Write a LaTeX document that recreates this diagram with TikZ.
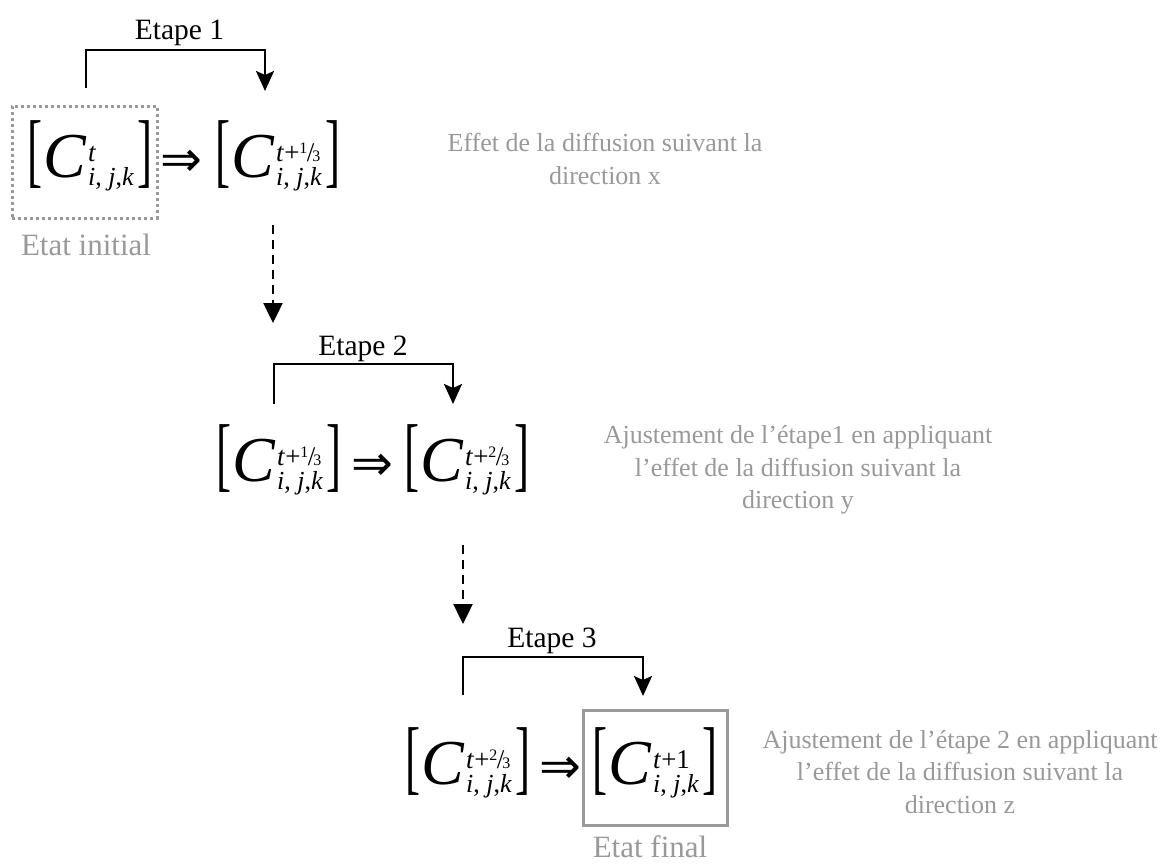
\documentclass[tikz,border=0pt]{standalone}
\usepackage{fontspec}
\setmainfont{Liberation Serif}
\newfontfamily\djv{DejaVu Sans}
\usetikzlibrary{arrows.meta}
\definecolor{lgray}{HTML}{999999}
\newsavebox\supbox
\newsavebox\subbox
\newcommand\Brk[1]{\scalebox{0.55}[1]{\fontsize{82}{82}\selectfont #1}}
\newcommand\Frac[2]{{\fontsize{16}{16}\selectfont\raisebox{8pt}{#1}}\kern-0.5pt{\fontsize{27}{27}\selectfont/}\kern-2pt{\fontsize{16}{16}\selectfont #2}}
\newcommand\Cexpr[1]{%
  \sbox\supbox{\fontsize{27}{27}\selectfont #1}%
  \sbox\subbox{\fontsize{26}{26}\selectfont\textit{i}, \textit{j},\textit{k}}%
  \Brk{[}\kern1pt{\fontsize{64}{64}\selectfont\textit{C}}\kern1pt%
  \rlap{\raisebox{16pt}{\usebox\supbox}}\rlap{\raisebox{-8pt}{\usebox\subbox}}%
  \ifdim\wd\supbox>\wd\subbox\hspace{\wd\supbox}\else\hspace{\wd\subbox}\fi
  \kern3pt\Brk{]}}
\tikzset{
  expr/.style={inner sep=0pt, anchor=base},
  imp/.style={inner sep=0pt, anchor=center, font=\djv\fontsize{50}{50}\selectfont},
  steplabel/.style={inner sep=0pt, anchor=base, font=\fontsize{29.5}{30}\selectfont},
  statelabel/.style={inner sep=0pt, anchor=base, text=lgray, font=\fontsize{31}{32}\selectfont},
  note/.style={inner sep=0pt, anchor=center, align=center, text=lgray, font=\fontsize{26}{32.5}\selectfont},
  stepline/.style={line width=2.4pt, -{Stealth[length=20pt,width=18pt,inset=4pt]}},
  dasharrow/.style={line width=2.4pt, dash pattern=on 9pt off 6pt, -{Triangle[length=20pt,width=19pt]}},
  initbox/.style={draw=lgray, line width=3pt, dash pattern=on 3pt off 3pt, minimum width=145pt, minimum height=112pt, inner sep=0pt},
  finalbox/.style={draw=lgray, line width=3pt, minimum width=144pt, minimum height=115pt, inner sep=0pt}
}
\begin{document}
\begin{tikzpicture}[x=1pt,y=-1pt]
\useasboundingbox (0,0) rectangle (1174,865);
% boxes
\node[initbox] (ibox) at (84.5,162) {};
\node[finalbox] (fbox) at (655,767.5) {};
% row 1
\node[expr] (e11) at (90,177) {\Cexpr{\textit{t}}};
\node[imp] (i1) at (181,163) {⇒};
\node[expr] (e12) at (278,177) {\Cexpr{\textit{t}+\Frac13}};
% row 2
\node[expr] (e21) at (279,481) {\Cexpr{\textit{t}+\Frac13}};
\node[imp] (i2) at (372,467) {⇒};
\node[expr] (e22) at (467,481) {\Cexpr{\textit{t}+\Frac23}};
% row 3
\node[expr] (e31) at (468,784) {\Cexpr{\textit{t}+\Frac23}};
\node[imp] (i3) at (560,770) {⇒};
\node[expr] (e32) at (655,784) {\Cexpr{\textit{t}+1}};
% labels
\node[steplabel] (s1) at (179.5,39) {Etape 1};
\node[steplabel] (s2) at (363,355) {Etape 2};
\node[steplabel] (s3) at (552,647) {Etape 3};
\node[statelabel] (li) at (86,255) {Etat initial};
\node[statelabel] (lf) at (650,857) {Etat final};
% notes
\node[note] (n1) at (605,159) {Effet de la diffusion suivant la\\direction x};
\node[note] (n2) at (798,470) {Ajustement de l’étape1 en appliquant\\l’effet de la diffusion suivant la\\direction y};
\node[note] (n3) at (960,772) {Ajustement de l’étape 2 en appliquant\\l’effet de la diffusion suivant la\\direction z};
% step connectors
\coordinate (a1) at (86,88);  \coordinate (b1) at (265,91);
\coordinate (a2) at (274,404); \coordinate (b2) at (453,404);
\coordinate (a3) at (463,695); \coordinate (b3) at (643,696);
\draw[stepline] (a1) -- (86,50) -- (265,50) -- (b1);
\draw[stepline] (a2) -- (274,364) -- (453,364) -- (b2);
\draw[stepline] (a3) -- (463,657) -- (643,657) -- (b3);
% dashed connectors
\coordinate (d1) at (273,225); \coordinate (f1) at (273,323);
\coordinate (d2) at (463,545); \coordinate (f2) at (463,624);
\draw[dasharrow] (d1) -- (f1);
\draw[dasharrow] (d2) -- (f2);
\end{tikzpicture}
\end{document}
